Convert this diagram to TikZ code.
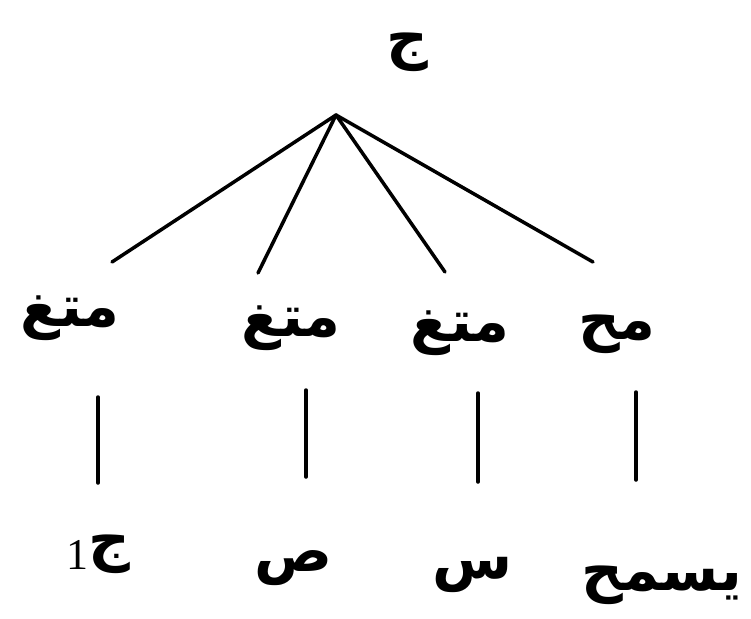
\documentclass[tikz,border=0pt]{standalone}
\usepackage{fontspec}
\usetikzlibrary{positioning}
\newfontfamily\arabicfont[Script=Arabic]{DejaVu Sans}
\newfontfamily\digitfont{Liberation Serif}
\TeXXeTstate=1

\begin{document}
\begin{tikzpicture}[x=1pt,y=-1pt]
	\tikzstyle{word} = [inner sep=0pt, font=\arabicfont\bfseries\fontsize{58}{64}\selectfont]
	\tikzstyle{branch} = [draw, line width=3.5pt, line cap=round]
	\useasboundingbox (0,0) rectangle (751,618);
	
	\node [word] (root) at (407,52) {\beginR ج\endR};
	\node [coordinate] (apex) at (336,115) {};
	
	\node [word] (v1) at (70,318) {\beginR متغ\endR};
	\node [word] (v2) at (291,328) {\beginR متغ\endR};
	\node [word] (v3) at (460,333) {\beginR متغ\endR};
	\node [word] (v4) at (617,334) {\beginR مح\endR};
	
	\node [coordinate] (e1) at (112,262) {};
	\node [coordinate] (e2) at (258,273) {};
	\node [coordinate] (e3) at (445,272) {};
	\node [coordinate] (e4) at (593,262) {};
	
	\node [coordinate] (t1) at (98,397) {};
	\node [coordinate, below = 86pt of t1] (b1) {};
	\node [coordinate] (t2) at (306,390) {};
	\node [coordinate, below = 87pt of t2] (b2) {};
	\node [coordinate] (t3) at (478,393) {};
	\node [coordinate, below = 89pt of t3] (b3) {};
	\node [coordinate] (t4) at (636,392) {};
	\node [coordinate, below = 88pt of t4] (b4) {};
	
	\node [word] (l1) at (98,554) {\beginR ج\beginL\raisebox{-10pt}{\digitfont\mdseries\fontsize{44}{48}\selectfont 1}\endL\endR};
	\node [word] (l2) at (294,568) {\beginR ص\endR};
	\node [word] (l3) at (473,575) {\beginR س\endR};
	\node [word] (l4) at (662,585) {\beginR يسمح\endR};
	
	\draw [branch] (apex) -- (e1);
	\draw [branch] (apex) -- (e2);
	\draw [branch] (apex) -- (e3);
	\draw [branch] (apex) -- (e4);
	\draw [branch] (t1) -- (b1);
	\draw [branch] (t2) -- (b2);
	\draw [branch] (t3) -- (b3);
	\draw [branch] (t4) -- (b4);
	
\end{tikzpicture}
\end{document}
